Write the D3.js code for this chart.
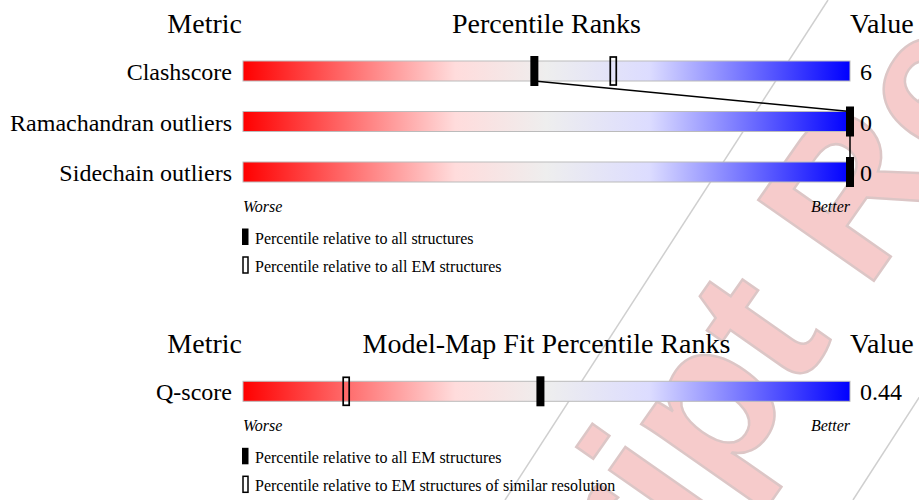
<html lang="en">
<head>
<meta charset="UTF-8">
<title>Percentile ranks</title>
<style>
  body { margin: 0; background: #fff; }
  text { font-family: "Liberation Serif", "DejaVu Serif", serif; fill: #000; }
  .bar { stroke: #bbb; stroke-width: 1; }
  .link { stroke: #000; stroke-width: 1.5; fill: none; }
</style>
</head>
<body>
<svg width="919" height="500"></svg>
<script src="https://cdn.jsdelivr.net/npm/d3@7"></script>
<script>
(function () {
  'use strict';

  // data
  var metrics = ["Clashscore", "Ramachandran outliers", "Sidechain outliers"];
  var metricValues = ["6", "0", "0"];
  var pctAll = [48, 100, 100];
  var pctEM = [61, null, null];
  var legend1 = ["Percentile relative to all structures", "Percentile relative to all EM structures"];

  var fitMetrics = ["Q-score"];
  var fitValues = ["0.44"];
  var fitPctEM = [49];
  var fitPctRes = [17];
  var legend2 = ["Percentile relative to all EM structures", "Percentile relative to EM structures of similar resolution"];

  var svg = d3.select("svg");
  var x = d3.scaleLinear().domain([0, 100]).range([243, 850]);

  var defs = svg.append("defs");
  var grad = defs.append("linearGradient").attr("id", "rank");
  [[0, "#ff0000"], [0.35, "#ffdcdc"], [0.5, "#eeeeee"], [0.67, "#dcdcff"], [1, "#0000ff"]].forEach(function (s) {
    grad.append("stop").attr("offset", s[0]).attr("stop-color", s[1]);
  });

  // watermark, behind everything
  var wm = svg.append("g").attr("class", "watermark");
  wm.selectAll("line").data([[828, 0, 505, 500], [1175, 0, 853, 500]]).enter()
    .append("line")
    .attr("x1", function (d) { return d[0]; }).attr("y1", function (d) { return d[1]; })
    .attr("x2", function (d) { return d[2]; }).attr("y2", function (d) { return d[3]; })
    .attr("stroke", "#cfcfcf").attr("stroke-width", 1.5);
  var F = 205;
  wm.append("text")
    .attr("transform", "translate(866,292) rotate(-55)")
    .attr("x", -5.612 * F)
    .style("font-family", "'Liberation Sans', Arial, sans-serif")
    .style("font-weight", "bold")
    .style("font-size", F + "px")
    .style("fill", "#f6cbcb")
    .style("stroke", "#dcc6c6")
    .style("stroke-width", 2.5)
    .text("Manuscript Review");

  function panel(top, title, names, vals, filled, open, legendLabels) {
    var g = svg.append("g");
    var y = d3.scalePoint().domain(names).range([top + 38, top + 38 + (names.length - 1) * 50.5]);
    var barBottom = y(names[names.length - 1]) + 10;

    g.append("text").attr("x", 242).attr("y", top).attr("text-anchor", "end")
      .style("font-size", "28px").text("Metric");
    g.append("text").attr("x", (x(0) + x(100)) / 2).attr("y", top).attr("text-anchor", "middle")
      .style("font-size", "28px").text(title);
    g.append("text").attr("x", 850).attr("y", top).style("font-size", "28px").text("Value");

    g.selectAll(".bar").data(names).enter().append("rect")
      .attr("class", "bar")
      .attr("x", x(0)).attr("width", x(100) - x(0))
      .attr("y", function (d) { return y(d) - 10; }).attr("height", 20)
      .attr("fill", "url(#rank)");

    g.selectAll(".label").data(names).enter().append("text")
      .attr("x", 232).attr("y", function (d) { return y(d) + 9; })
      .attr("text-anchor", "end").style("font-size", "24px")
      .text(function (d) { return d; });

    g.selectAll(".val").data(names).enter().append("text")
      .attr("x", 860).attr("y", function (d) { return y(d) + 9; })
      .style("font-size", "24px")
      .text(function (d, i) { return vals[i]; });

    // links between filled markers
    for (var i = 0; i < names.length - 1; i++) {
      g.append("line").attr("class", "link")
        .attr("x1", x(filled[i])).attr("y1", y(names[i]) + 10)
        .attr("x2", x(filled[i + 1])).attr("y2", y(names[i + 1]) - 10);
    }

    g.selectAll(".open").data(names.filter(function (d, i) { return open[i] != null; })).enter()
      .append("rect")
      .attr("x", function (d) { return x(open[names.indexOf(d)]) - 3; })
      .attr("y", function (d) { return y(d) - 14; })
      .attr("width", 6).attr("height", 28)
      .attr("fill", "none").attr("stroke", "#000").attr("stroke-width", 1.7);

    g.selectAll(".filled").data(names).enter().append("rect")
      .attr("x", function (d, i) { return x(filled[i]) - 4; })
      .attr("y", function (d) { return y(d) - 15; })
      .attr("width", 8).attr("height", 30)
      .attr("fill", "#000");

    var wy = barBottom + 29.5;
    g.append("text").attr("x", x(0)).attr("y", wy)
      .style("font-size", "16px").style("font-style", "italic").text("Worse");
    g.append("text").attr("x", x(100)).attr("y", wy).attr("text-anchor", "end")
      .style("font-size", "16px").style("font-style", "italic").text("Better");

    var ly = [wy + 32, wy + 60.5];
    g.append("rect").attr("x", 242).attr("y", ly[0] - 15).attr("width", 6.5).attr("height", 16.5).attr("fill", "#000");
    g.append("rect").attr("x", 243).attr("y", ly[1] - 15).attr("width", 5).attr("height", 16)
      .attr("fill", "none").attr("stroke", "#000").attr("stroke-width", 1.5);
    g.selectAll(".leg").data(legendLabels).enter().append("text")
      .attr("x", 255).attr("y", function (d, i) { return ly[i]; })
      .style("font-size", "16px")
      .text(function (d) { return d; });
  }

  panel(33, "Percentile Ranks", metrics, metricValues, pctAll, pctEM, legend1);
  panel(353.3, "Model-Map Fit Percentile Ranks", fitMetrics, fitValues, fitPctEM, fitPctRes, legend2);
})();
</script>
</body>
</html>
